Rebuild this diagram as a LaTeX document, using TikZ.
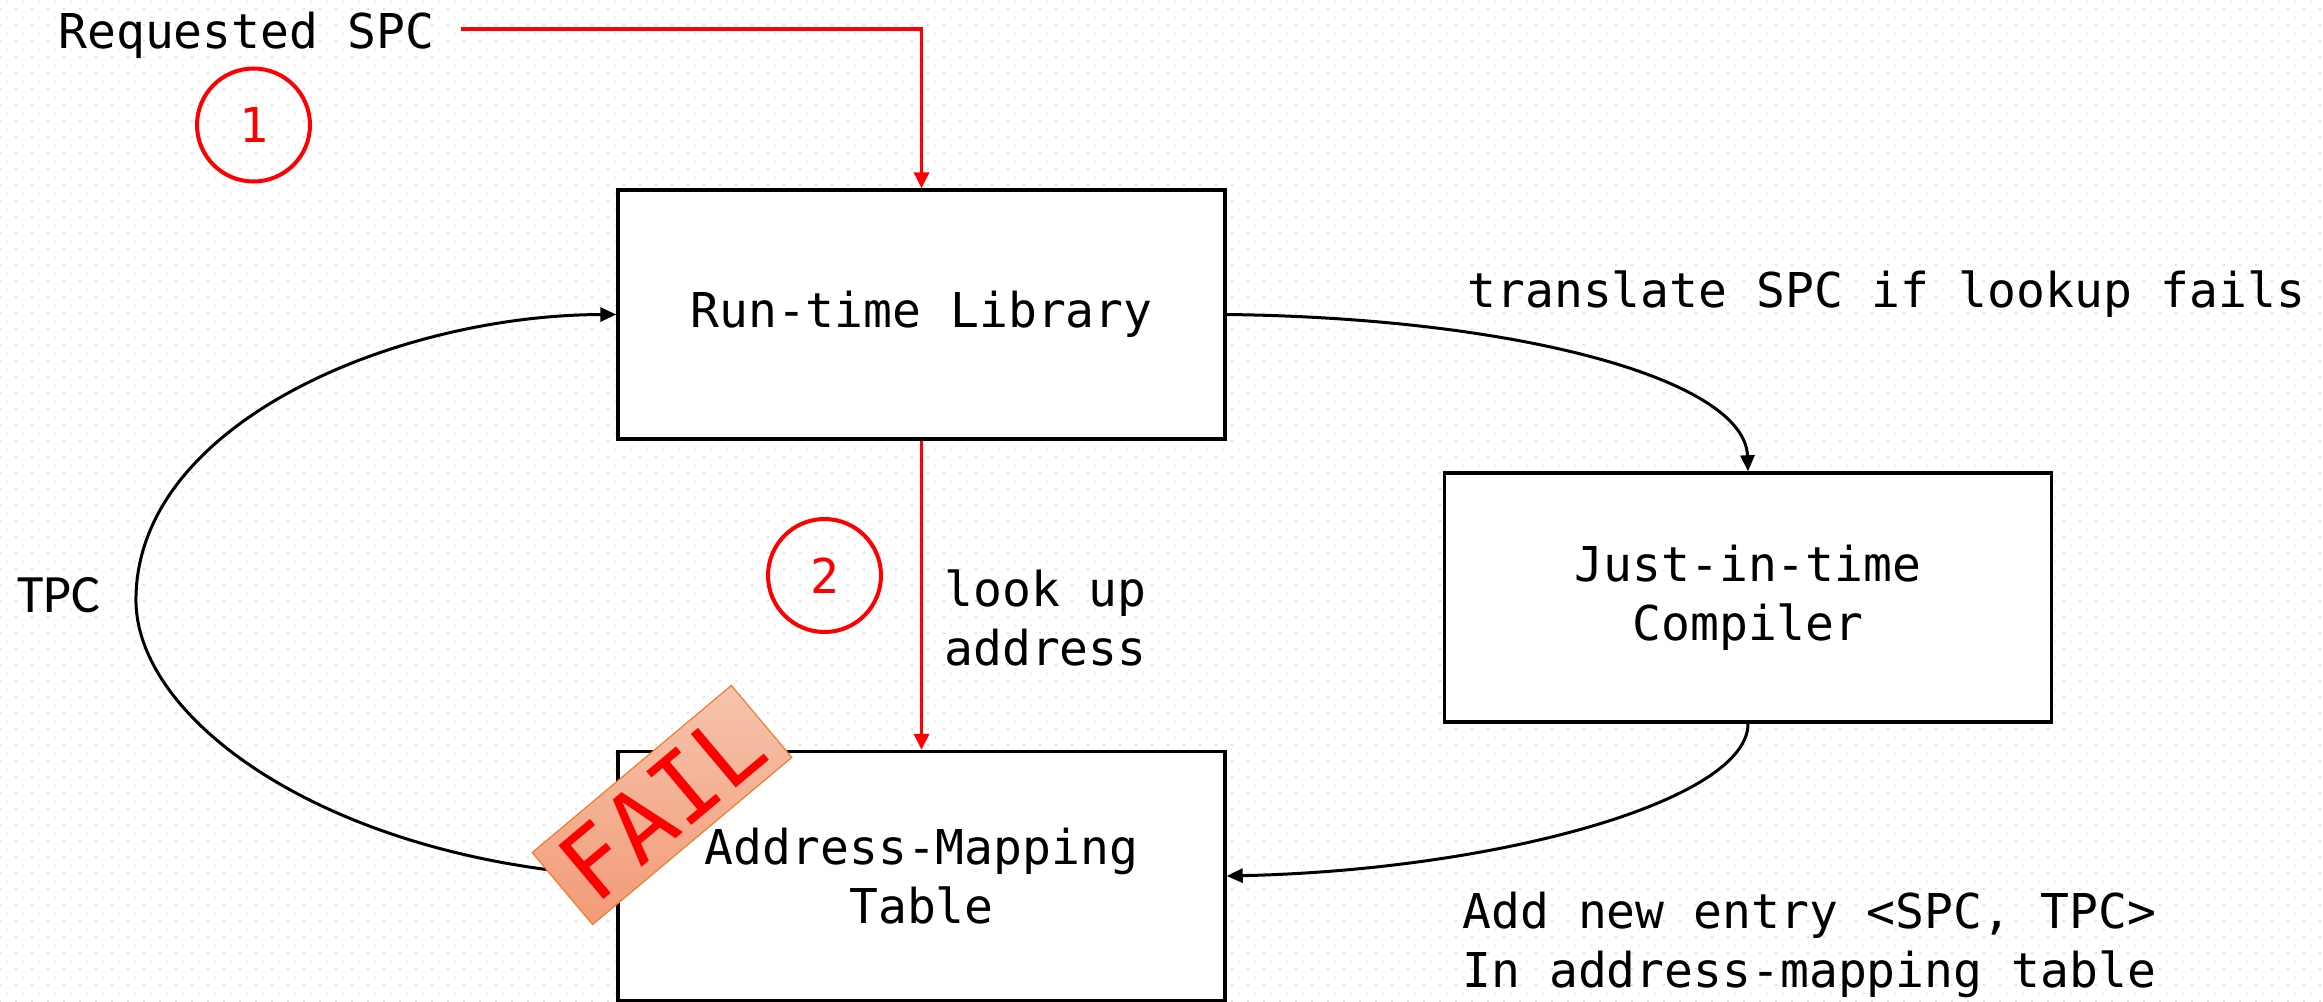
\documentclass[tikz,border=0pt]{standalone}
\usepackage{fontspec}
\setmonofont{DejaVu Sans Mono}
\newfontfamily\labelsans{Carlito}
\usetikzlibrary{arrows.meta,patterns.meta}

\definecolor{dotgray}{HTML}{E2E2E2}
\definecolor{stampA}{HTML}{F6C4AC}
\definecolor{stampB}{HTML}{F29B77}
\definecolor{stampedge}{HTML}{ED7D31}

% faint staggered dot grid for the canvas
\pgfdeclarepattern{
  name=bgdots,
  type=uncolored,
  bottom left={\pgfpoint{0pt}{0pt}},
  top right={\pgfpoint{8pt}{8pt}},
  tile size={\pgfpoint{8pt}{8pt}},
  code={
    \pgfpathrectangle{\pgfpoint{0pt}{0pt}}{\pgfpoint{1pt}{1pt}}%
    \pgfpathrectangle{\pgfpoint{4pt}{4pt}}{\pgfpoint{1pt}{1pt}}%
    \pgfusepath{fill}%
  }
}

\begin{document}
\begin{tikzpicture}[x=0.5pt,y=-0.5pt,
  mono/.style={font=\ttfamily\fontsize{24}{29.5}\selectfont},
  box/.style={draw=black, line width=1.7pt, fill=white, minimum width=303.5pt,
    minimum height=124.5pt, inner sep=0pt, mono, align=center},
  conn/.style={draw=black, line width=1.5pt, -{Triangle[length=8pt,width=7pt]}},
  redconn/.style={draw=red, line width=1.7pt, -{Triangle[length=8pt,width=7.5pt]}},
  numcircle/.style={circle, draw=red, line width=2pt, minimum size=56.5pt,
    inner sep=0pt, text=red, mono},
  lbl/.style={mono, inner sep=0pt},
]
\useasboundingbox (0,0) rectangle (2323,1001);
\fill[white] (0,0) rectangle (2323,1001);
\fill[pattern=bgdots, pattern color=dotgray] (0,0) rectangle (2323,1001);

% main blocks
\node[box] (rtl) at (921.5,314.5) {Run-time Library};
\node[box] (jit) at (1748,597.5) {Just-in-time\\Compiler};
\node[box] (amt) at (921.5,876) {Address-Mapping\\Table};

% request path (red)
\node[lbl, anchor=base west] (req) at (58,48) {Requested SPC};
\draw[redconn] ([xshift=13.5pt,yshift=3pt]req.east) -| (rtl.north);
\draw[redconn] (rtl.south) -- (amt.north);
\node[numcircle] (c1) at (253.5,125) {1};
\node[numcircle] (c2) at (824.5,575.5) {2};
\node[lbl, anchor=north west, align=left] (lookup) at (944,569) {look up\\address};

% translation and table update
\node[lbl, anchor=base west] (translate) at (1467,307) {translate SPC if lookup fails};
\draw[conn] (rtl.east) .. controls (1520,318) and (1745,380) .. (jit.north);
\draw[conn] (jit.south) .. controls (1748,800) and (1500,870) .. (amt.east);
\node[lbl, anchor=north west, align=left] (addentry) at (1462,892)
  {Add new entry <SPC, TPC>\\In address-mapping table};

% result returned to the library
\draw[conn] (amt.west) .. controls (330,860) and (132,720) .. (136,596)
  .. controls (140,420) and (400,315) .. (rtl.west);
\node[font=\labelsans\fontsize{27}{32}\selectfont, inner sep=0pt, anchor=base west]
  (tpc) at (17,612) {TPC};

% failure stamp
\node[rotate=40, minimum width=130pt, minimum height=47pt, draw=stampedge,
  line width=0.6pt, top color=stampA, bottom color=stampB, text=red,
  font=\ttfamily\fontsize{48}{48}\selectfont, inner sep=0pt] (fail) at (662,805) {FAIL};
\end{tikzpicture}
\end{document}
